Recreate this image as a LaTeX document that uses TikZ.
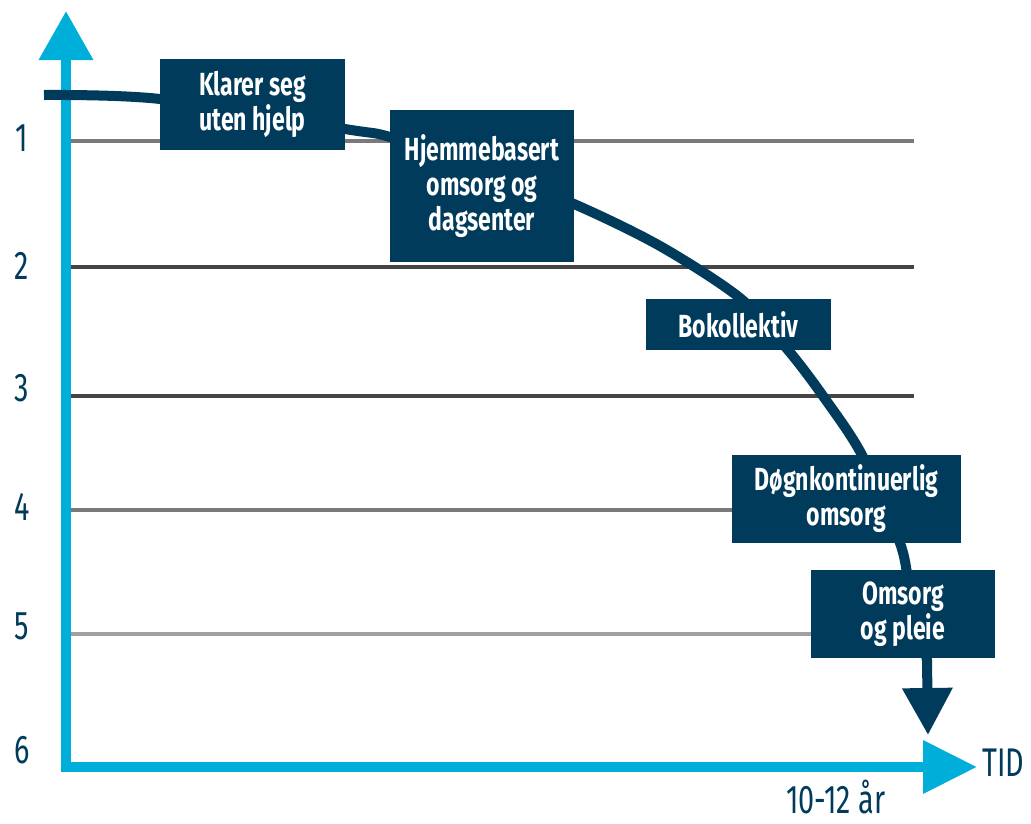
\documentclass[tikz,border=0pt]{standalone}
\usepackage{fontspec}
\newfontfamily\labfont{Fira Sans}[FakeStretch=0.72]
\usetikzlibrary{arrows.meta}
\definecolor{navy}{HTML}{003B5C}
\definecolor{axcyan}{HTML}{00AEDA}
\definecolor{grida}{HTML}{7A7A7A}
\definecolor{gridb}{HTML}{454545}
\definecolor{gridc}{HTML}{A0A0A0}
\tikzset{
  stage/.style={fill=navy,text=white,inner sep=0pt,align=center,font=\labfont\bfseries\fontsize{32}{35}\selectfont},
  axis/.style={draw=axcyan,line width=10pt,line join=miter},
  tick/.style={font=\labfont\fontsize{40}{40}\selectfont,text=navy,inner sep=0pt},
  level/.style={line width=4pt},
  trend/.style={draw=navy,line width=10pt},
}

\begin{document}
\begin{tikzpicture}[x=1pt,y=-1pt]
  \useasboundingbox (0,0) rectangle (1031,823);
  \foreach \y/\c in {141/grida,267/gridb,396/gridb,510/grida,634/gridc}
    \draw[level,draw=\c] (70,\y) -- (914,\y);
  \foreach \n/\y in {1/138,2/266,3/388,4/507,5/626,6/750}
    \node[tick] (lv\n) at (22,\y) {\n};
  \coordinate (orig) at (66,767);
  \coordinate (ytip) at (66,11);
  \coordinate (xtip) at (977,767);
  \draw[axis,{Triangle[length=49pt,width=52pt]}-{Triangle[length=54pt,width=51pt]}] (ytip) -- (orig) -- (xtip);
  \node[tick,anchor=west] (tid) at (982,763) {TID};
  \node[tick,anchor=base] (span) at (836,813) {10-12 år};
  \coordinate (start) at (44,95);
  \coordinate (end) at (928,735);
  \draw[trend,-{Triangle[length=47pt,width=48pt]}] plot[smooth] coordinates {(start) (160,99) (345,129) (390,137) (480,168) (574,204) (660,246) (740,298) (788,350) (823,396) (862,455) (900,543) (910,590) (927,660)} -- (end);
  \node[stage,minimum width=185pt,minimum height=91pt] (s1) at (252.5,104.5) {Klarer seg\\uten hjelp};
  \node[stage,minimum width=184pt,minimum height=152pt] (s2) at (482,186) {Hjemmebasert\\omsorg og\\dagsenter};
  \node[stage,minimum width=185pt,minimum height=51pt] (s3) at (738.5,324.5) {Bokollektiv};
  \node[stage,minimum width=229pt,minimum height=88pt] (s4) at (846.5,499) {Døgnkontinuerlig\\omsorg};
  \node[stage,minimum width=184pt,minimum height=88pt] (s5) at (903,614) {Omsorg\\og pleie};
\end{tikzpicture}
\end{document}
